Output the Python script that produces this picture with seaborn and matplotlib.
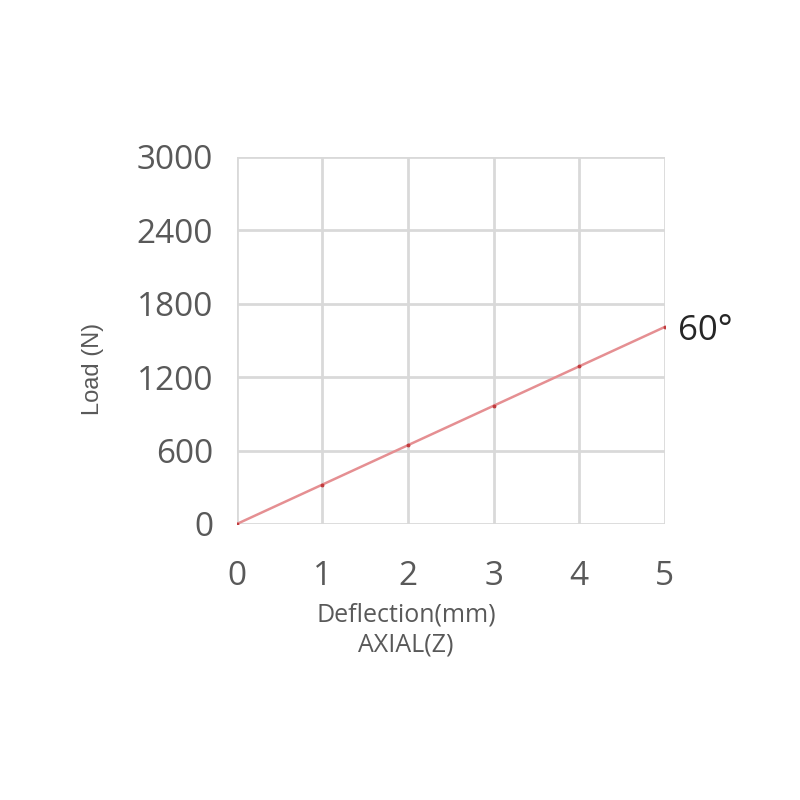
import matplotlib
matplotlib.use("Agg")
import matplotlib.pyplot as plt
import seaborn as sns
import pandas as pd

deflection = [0, 1, 2, 3, 4, 5]
load = [0, 322, 644, 966, 1288, 1610]
y_ticks = [0, 600, 1200, 1800, 2400, 3000]
series_label = "60°"

df = pd.DataFrame({"Deflection": deflection, "Load": load})

sns.set_style("white")
plt.rcParams["font.family"] = ["Open Sans", "DejaVu Sans"]

fig = plt.figure(figsize=(8, 8), dpi=100)
ax = fig.add_axes([0.296, 0.345, 0.535, 0.459])

sns.lineplot(data=df, x="Deflection", y="Load", ax=ax, color="#e58f92",
             linewidth=1.8, marker="o", markersize=2,
             markerfacecolor="#c0393b", markeredgecolor="#c0393b")

ax.set_xlim(0, 5)
ax.set_ylim(0, 3000)
ax.set_xticks(deflection)
ax.set_yticks(y_ticks)
ax.grid(True, color="#d9d9d9", linewidth=2)
ax.set_axisbelow(True)
for s in ax.spines.values():
    s.set_visible(False)

ax.tick_params(axis="x", length=13, width=2, color="#d9d9d9", pad=13,
               labelsize=24, labelcolor="#595959")
ax.tick_params(axis="y", length=0, pad=17, labelsize=24, labelcolor="#595959")
ax.set_xlabel("")
ax.set_ylabel("")

ax.text(5.15, load[-1] - 30, series_label, fontsize=25, color="#262626",
        va="center", ha="left")

fig.text(406 / 800, 1 - 630 / 800, "Deflection(mm)\nAXIAL(Z)", ha="center",
         va="center", fontsize=18, color="#595959", linespacing=1.25)
fig.text(93 / 800, 1 - 369 / 800, "Load (N)", rotation=90, ha="center",
         va="center", fontsize=17, color="#595959", family="Liberation Sans")

fig.savefig("out.png", dpi=100)
